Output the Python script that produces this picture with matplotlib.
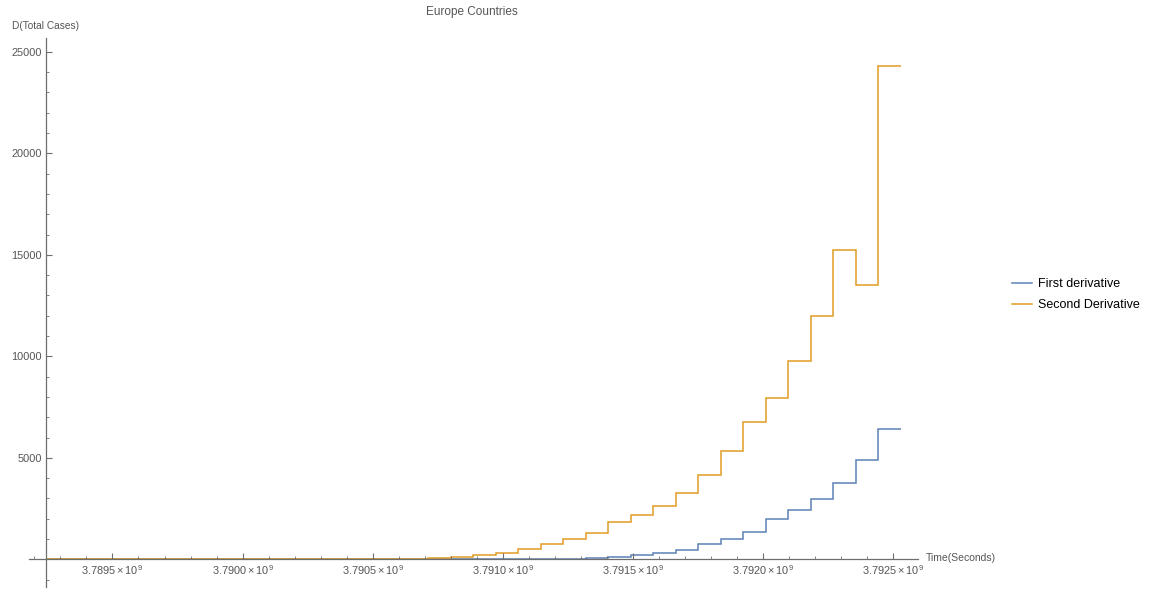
import numpy as np
import matplotlib.pyplot as plt
from matplotlib.ticker import MultipleLocator, FixedLocator, FixedFormatter

plt.rcParams['font.family'] = ['Liberation Sans', 'DejaVu Sans']
plt.rcParams['mathtext.fontset'] = 'custom'
plt.rcParams['mathtext.rm'] = 'Liberation Sans'
plt.rcParams['mathtext.it'] = 'Liberation Sans'

# time axis: one value per day, Mathematica absolute time (seconds since 1900)
t_start = 3789244800  # 2020-01-29
day = 86400

# daily values (38 days)
first_deriv = [0, 0, 0, 0, 0, 0, 0, 0, 0, 0, 0, 0, 0, 0, 0, 0, 0,
               1, 2, 3, 5, 5, 10, 20, 40, 130, 200, 310, 460, 740,
               1000, 1330, 1970, 2430, 2960, 3760, 4900, 6400]
second_deriv = [2, 0, 3, 0, 1, 0, 2, 0, 0, 1, 0, 3, 0, 2, 5, 8, 12,
                70, 128, 212, 325, 490, 740, 985, 1280, 1820, 2200, 2630, 3280, 4150,
                5350, 6780, 7950, 9750, 12000, 15250, 13500, 24300]

series_names = ["First derivative", "Second Derivative"]
series_colors = ["#5E81B5", "#E19C24"]

xtick_vals = [3.7895e9, 3.7900e9, 3.7905e9, 3.7910e9, 3.7915e9, 3.7920e9, 3.7925e9]
xtick_mant = ["3.7895", "3.7900", "3.7905", "3.7910", "3.7915", "3.7920", "3.7925"]
ytick_vals = [5000, 10000, 15000, 20000, 25000]
ytick_labels = ["5000", "10000", "15000", "20000", "25000"]

edges = t_start + day * np.arange(len(first_deriv) + 1)

fig = plt.figure(figsize=(11.55, 6), dpi=100)
ax = fig.add_axes([29 / 1155, 13 / 600, (918 - 29) / 1155, (587 - 38) / 600])

for vals, name, col in zip([first_deriv, second_deriv], series_names, series_colors):
    ax.stairs(vals, edges, color=col, lw=1.1, label=name, baseline=None)

ax.set_xlim(3789179498, 3792594395)
ax.set_ylim(-1364, 25680)

axis_col = "#6e6e6e"
text_col = "#555555"
for s in ["top", "right"]:
    ax.spines[s].set_visible(False)
ax.spines["left"].set_position(("data", t_start))
ax.spines["bottom"].set_position(("data", 0))
for s in ["left", "bottom"]:
    ax.spines[s].set_color(axis_col)
    ax.spines[s].set_linewidth(0.9)

ax.xaxis.set_major_locator(FixedLocator(xtick_vals))
ax.xaxis.set_major_formatter(FixedFormatter([r"$%s\times10^{9}$" % m for m in xtick_mant]))
ax.xaxis.set_minor_locator(MultipleLocator(1e5))
ax.yaxis.set_major_locator(FixedLocator(ytick_vals))
ax.yaxis.set_major_formatter(FixedFormatter(ytick_labels))
ax.yaxis.set_minor_locator(MultipleLocator(1000))

ax.tick_params(which="both", direction="in", color=axis_col, labelcolor=text_col, labelsize=7.9)
ax.tick_params(which="major", length=4, width=0.8, pad=3)
ax.tick_params(which="minor", length=2.2, width=0.6)

fig.text(472 / 1155, 1 - 12 / 600, "Europe Countries", ha="center", va="center",
         fontsize=8.5, color=text_col)
fig.text(12 / 1155, 1 - 26 / 600, "D(Total Cases)", ha="left", va="center",
         fontsize=7.3, color=text_col)
fig.text(926 / 1155, 1 - 558 / 600, "Time(Seconds)", ha="left", va="center",
         fontsize=7.5, color=text_col)

fig.legend(loc="center left", bbox_to_anchor=(1012 / 1155, 1 - 294.5 / 600),
           frameon=False, fontsize=9, handlelength=1.6, handletextpad=0.5,
           labelspacing=0.7, borderpad=0, borderaxespad=0)

fig.savefig("out.png", dpi=100, facecolor="white")
